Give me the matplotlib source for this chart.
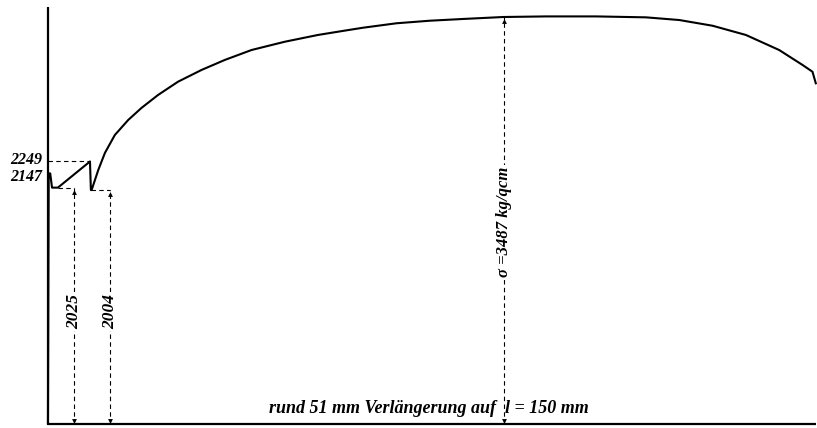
import matplotlib
matplotlib.use("Agg")
import matplotlib.pyplot as plt

# Stress-strain curve (elongation in mm, stress in kg/qcm)
strain_mm = [0.0, 0.05, 0.15, 0.27, 0.66, 2.79, 2.85, 2.90, 3.34, 3.78, 4.44, 5.33,
             6.21, 7.31, 8.64, 10.19, 11.74, 13.51, 15.72, 17.92, 19.69, 20.91,
             23.12, 25.33, 27.54, 30.24, 33.07, 36.39, 39.70, 41.91, 44.12, 46.33,
             48.54, 50.09, 50.75, 50.97]
stress = [0, 2147, 2147, 2025, 2025, 2249, 2004, 2005, 2176, 2322, 2476, 2605,
          2708, 2819, 2933, 3033, 3119, 3204, 3275, 3333, 3370, 3395,
          3433, 3455, 3470, 3487, 3492, 3492, 3484, 3461, 3412, 3333,
          3204, 3076, 3018, 2919]

upper_yield = 2249
first_upper = 2147
lower_yields = [2025, 2004]
lower_yield_x = [0.66, 2.85]
lower_arrow_x = [1.72, 4.11]
upper_yield_x = 2.79
max_stress = 3487
max_x = 30.24
total_elong = 51.0

ytop_axis = 3573

fig = plt.figure(figsize=(8.17, 4.28), dpi=100)
ax = fig.add_axes([0, 0, 1, 1])
ax.set_xlim(-3.183, 51.05)
ax.set_ylim(-34.3, 3632.6)
ax.axis("off")

font = dict(family="Liberation Serif", style="italic", weight="bold")

# axes lines
ax.plot([0, 0], [0, ytop_axis], color="black", lw=1.6, solid_capstyle="butt")
ax.plot([0, total_elong], [0, 0], color="black", lw=1.6, solid_capstyle="butt")

# curve
ax.plot(strain_mm, stress, color="black", lw=1.5, solid_joinstyle="round")

dash = dict(color="black", lw=0.8, linestyle=(0, (4, 3)))

# upper yield dashed level
ax.plot([0, upper_yield_x], [upper_yield, upper_yield], **dash)
ax.text(-0.35, upper_yield + 12, str(upper_yield), ha="right", va="center", fontsize=11.5, **font)
ax.text(-0.35, first_upper - 30, str(first_upper), ha="right", va="center", fontsize=11.5, **font)

# lower yields with arrows
for lx, ax_x, val in zip(lower_yield_x, lower_arrow_x, lower_yields):
    ax.plot([lx, ax_x], [val, val], **dash)
    ax.plot([ax_x, ax_x], [0, val], **dash)
    ax.plot([ax_x], [val - 35], marker="^", color="black", ms=3.5, mew=0)
    ax.plot([ax_x], [25], marker="v", color="black", ms=3.5, mew=0)
    ax.text(ax_x, 965, str(val), rotation=90, ha="center", va="center", fontsize=12.5,
            bbox=dict(facecolor="white", edgecolor="none", pad=1.5), **font)

# max stress arrow
ax.plot([max_x, max_x], [0, max_stress], **dash)
ax.plot([max_x], [max_stress - 35], marker="^", color="black", ms=3.5, mew=0)
ax.plot([max_x], [25], marker="v", color="black", ms=3.5, mew=0)
ax.text(max_x, 1731, "σ =3487 kg/qcm", rotation=90, ha="center", va="center", fontsize=12,
        bbox=dict(facecolor="white", edgecolor="none", pad=1.5), **font)

ax.text(25.3, 94, "rund 51 mm Verlängerung auf  l = 150 mm", ha="center", va="baseline",
        fontsize=13, **font)

fig.savefig("out.png", dpi=100)
